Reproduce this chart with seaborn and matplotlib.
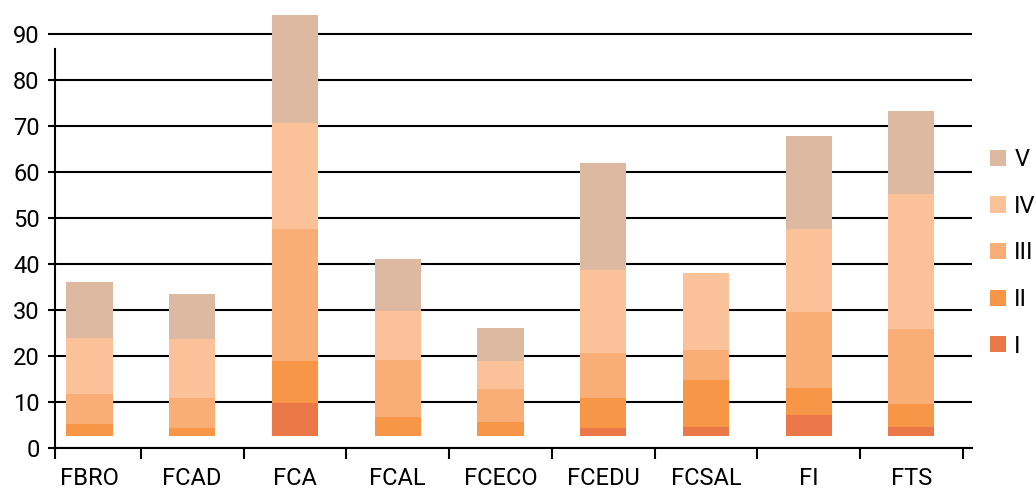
import numpy as np
import pandas as pd
import seaborn as sns
import matplotlib.pyplot as plt
from matplotlib.ticker import FixedLocator

facultades = ['FBRO', 'FCAD', 'FCA', 'FCAL', 'FCECO', 'FCEDU', 'FCSAL', 'FI', 'FTS']
niveles = ['I', 'II', 'III', 'IV', 'V']
nivel_I = [0, 0, 7.2, 0, 0, 1.8, 2.0, 4.6, 2.0]
nivel_II = [2.65, 1.8, 9.15, 4.2, 3.1, 6.5, 10.2, 5.9, 5.0]
nivel_III = [6.55, 6.5, 28.65, 12.4, 7.2, 9.8, 6.5, 16.5, 16.3]
nivel_IV = [12.15, 12.8, 23.0, 10.6, 6.05, 18.0, 16.8, 18.0, 29.4]
nivel_V = [12.15, 9.8, 23.6, 11.3, 7.15, 23.3, 0, 20.3, 18.0]
base = 2.5  # the bars in the original start a bit above zero
colores = ['#EB7848', '#F79646', '#F9AE78', '#FBC199', '#DDB9A2']

sns.set_style('white')
plt.rcParams['font.family'] = ['Roboto', 'DejaVu Sans']
plt.rcParams['font.size'] = 17
plt.rcParams['text.color'] = 'black'
plt.rcParams['xtick.color'] = 'black'
plt.rcParams['ytick.color'] = 'black'

fig = plt.figure(figsize=(10.36, 4.91), dpi=100)
ax = fig.add_axes([55 / 1036, 43.3 / 491, 917 / 1036, 446.2 / 491])

bottom = np.full(len(facultades), base)
for nombre, vals, col in zip(niveles, [nivel_I, nivel_II, nivel_III, nivel_IV, nivel_V], colores):
    df = pd.DataFrame({'facultad': facultades, 'valor': vals})
    sns.barplot(data=df, x='facultad', y='valor', order=facultades, color=col,
                width=0.45, bottom=bottom.copy(), errorbar=None, label=nombre,
                saturation=1, linewidth=0, legend=False, ax=ax)
    bottom = bottom + np.array(vals)

ax.set_xlim(-0.335, 8.59)
ax.set_ylim(0, 97)
ax.set_yticks(range(0, 100, 10))
ax.set_xlabel('')
ax.set_ylabel('')

ax.yaxis.grid(True, color='black', lw=1.5)
ax.xaxis.grid(False)
ax.set_axisbelow(True)

for s in ['top', 'right']:
    ax.spines[s].set_visible(False)
for s in ['left', 'bottom']:
    ax.spines[s].set_color('black')
    ax.spines[s].set_linewidth(1.5)
ax.spines['left'].set_bounds(0, 86.7)

ax.set_xticks(range(len(facultades)))
ax.set_xticklabels(facultades)
ax.tick_params(axis='x', which='major', length=0, pad=14)
ax.xaxis.set_minor_locator(FixedLocator([-0.335] + list(np.arange(0.5, 9, 1))))
ax.tick_params(axis='x', which='minor', length=8, width=1.5, color='black', bottom=True)
ax.tick_params(axis='y', length=5, width=1.5, color='black', pad=6, left=True)

h, l = ax.get_legend_handles_labels()
fig.legend(h[::-1], l[::-1], loc='center left', bbox_to_anchor=(990 / 1036, 0.485),
           frameon=False, borderpad=0, borderaxespad=0, handlelength=0.68,
           handleheight=0.68, handletextpad=0.35, labelspacing=1.0)

fig.savefig('out.png', dpi=100)
